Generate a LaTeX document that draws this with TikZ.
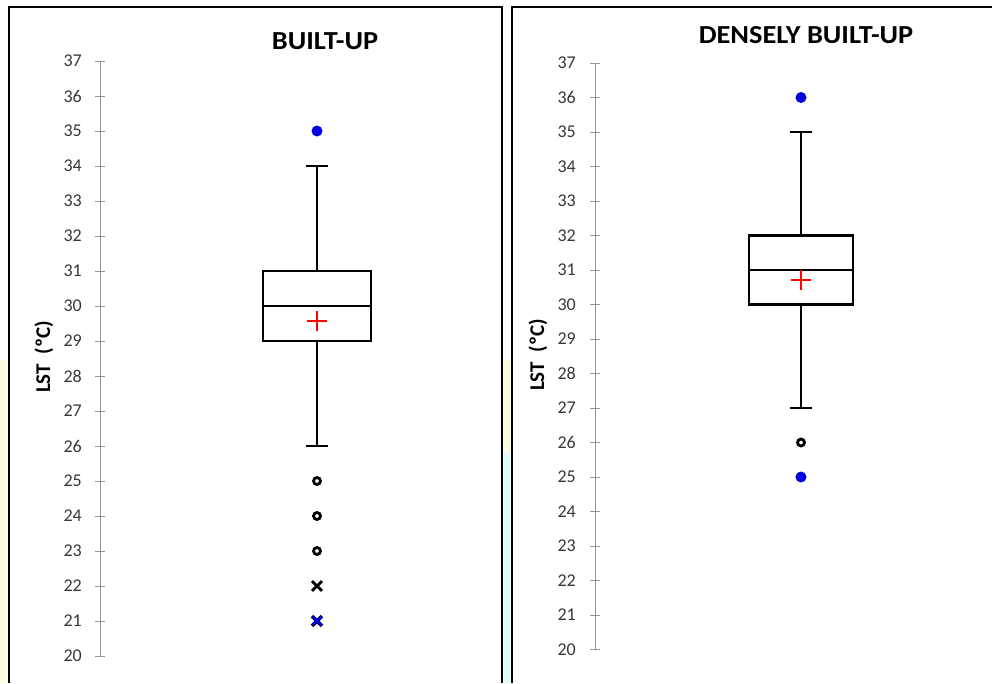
\documentclass[tikz,border=0pt]{standalone}
\usepackage{fontspec}
\setmainfont{Carlito}
\definecolor{axisgray}{RGB}{150,150,150}
\definecolor{labgray}{RGB}{55,55,55}
\definecolor{paleyellow}{RGB}{255,253,222}
\definecolor{palecyan}{RGB}{222,253,255}
\definecolor{dotblue}{RGB}{0,0,225}
\tikzset{
  frame/.style={line width=2.6pt},
  boxline/.style={line width=2.4pt},
  meanmark/.style={red, line width=1.8pt},
  ticklab/.style={anchor=east, inner sep=0pt, text=labgray, font=\fontsize{18}{18}\selectfont},
  titlelab/.style={inner sep=0pt, xscale=1.09, font=\bfseries\fontsize{26}{26}\selectfont},
  ylab/.style={inner sep=0pt, rotate=90, font=\bfseries\fontsize{21}{21}\selectfont},
  outdot/.style={fill=dotblue, draw=none},
  outring/.style={draw=black, line width=2.8pt}
}
\begin{document}
\begin{tikzpicture}[x=1pt, y=-1pt]
    \useasboundingbox (0,0) rectangle (992,683);
    % pale strips at the edges
    \fill[paleyellow] (0,360) rectangle (7,683);
    \fill[paleyellow] (504,360) rectangle (510,453);
    \fill[palecyan] (504,453) rectangle (510,683);
    % frames
    \draw[frame] (9,683) -- (9,7) -- (502,7) -- (502,683);
    \draw[frame] (512,683) -- (512,7) -- (992,7);
    % titles and axis labels
    \node[titlelab] (tbu) at (325,41){BUILT-UP};
    \node[titlelab] (tdbu) at (806,35){DENSELY BUILT-UP};
    \node[ylab] (ybu) at (44,357){LST\ \ (ºC)};
    \node[ylab] (ydbu) at (538,355){LST\ \ (ºC)};

    % left panel
    \begin{scope}[y=35pt, yshift=-1356pt]
        \draw[axisgray, line width=1pt] (100,20) -- (100,37);
        \foreach \v in {20,...,37}{
            \draw[axisgray, line width=1pt] (95,\v) -- (105,\v);
            \node[ticklab] at (82,\v){\v};
        }
        \draw[boxline] (317,31) -- (317,34);
        \draw[boxline] (306,34) -- (328,34);
        \draw[boxline] (317,29) -- (317,26);
        \draw[boxline] (306,26) -- (328,26);
        \draw[boxline, fill=white] (263,29) rectangle (371,31);
        \draw[boxline] (263,30) -- (371,30);
        \draw[meanmark] (307,29.58) -- (327,29.58);
        \draw[meanmark] (317,29.3) -- (317,29.86);
        \fill[outdot] (317,35) circle (5.5pt);
        \draw[outring] (317,25) circle (3.5pt);
        \draw[outring] (317,24) circle (3.5pt);
        \draw[outring] (317,23) circle (3.5pt);
        \draw[line width=2.8pt] (312,22.14) -- (322,21.86);
        \draw[line width=2.8pt] (312,21.86) -- (322,22.14);
        \draw[line width=3.6pt] (312,21.14) -- (322,20.86);
        \draw[line width=3.6pt] (312,20.86) -- (322,21.14);
        \draw[dotblue, line width=2.6pt] (312.5,21.12) -- (321.5,20.88);
        \draw[dotblue, line width=2.6pt] (312.5,20.88) -- (321.5,21.12);
    \end{scope}

    % right panel
    \begin{scope}[y=34.5pt, yshift=-1339.5pt]
        \draw[axisgray, line width=1pt] (595,20) -- (595,37);
        \foreach \v in {20,...,37}{
            \draw[axisgray, line width=1pt] (590,\v) -- (600,\v);
            \node[ticklab] at (576,\v){\v};
        }
        \draw[boxline] (801,32) -- (801,35);
        \draw[boxline] (790,35) -- (812,35);
        \draw[boxline] (801,30) -- (801,27);
        \draw[boxline] (790,27) -- (812,27);
        \draw[boxline, fill=white] (749,30) rectangle (853,32);
        \draw[boxline] (749,31) -- (853,31);
        \draw[meanmark] (791,30.72) -- (811,30.72);
        \draw[meanmark] (801,30.43) -- (801,31.01);
        \fill[outdot] (801,36) circle (5.5pt);
        \draw[outring] (801,26) circle (3.5pt);
        \fill[outdot] (801,25) circle (5.5pt);
    \end{scope}
\end{tikzpicture}
\end{document}
